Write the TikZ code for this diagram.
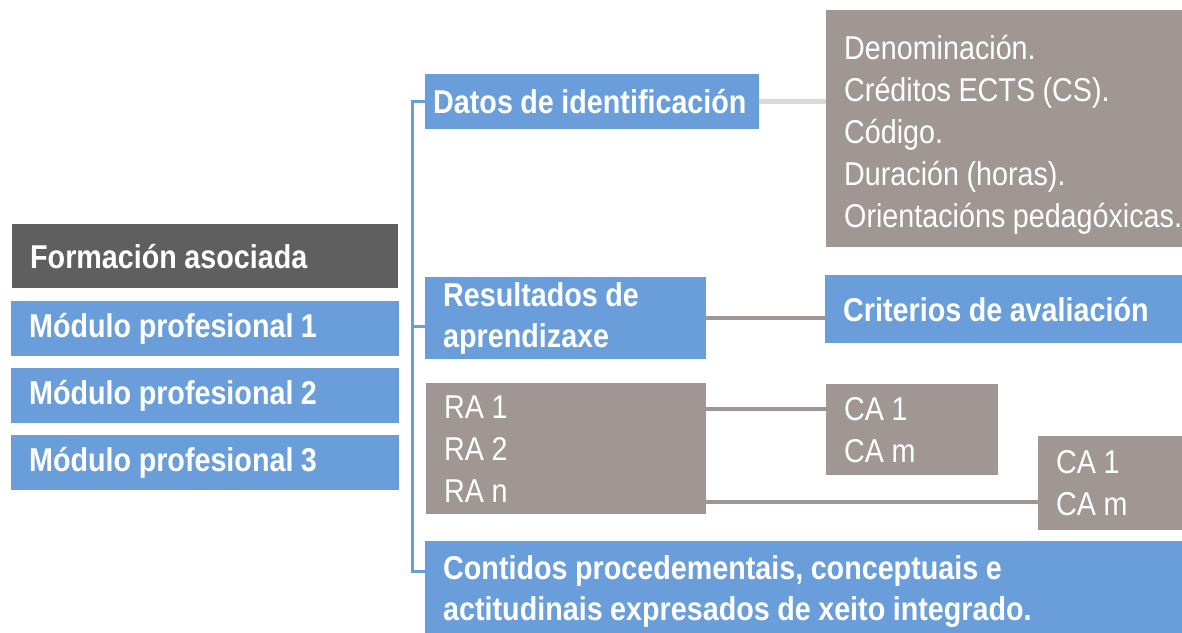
\documentclass[tikz,border=0pt]{standalone}
\usepackage{fontspec}
\usepackage{tikz}
\newfontfamily\diagfont[FakeStretch=0.87]{Liberation Sans}
\definecolor{modblue}{HTML}{6A9EDA}
\definecolor{ragray}{HTML}{A09694}
\definecolor{darkbox}{HTML}{5F5F5F}
\definecolor{lightline}{HTML}{D9D9D9}
\tikzset{
  box/.style={anchor=north west, inner xsep=18pt, inner ysep=0pt, align=left,
    text=white, font=\diagfont\fontsize{33}{42}\selectfont,
    execute at begin node={\hyphenpenalty=10000\spaceskip=7.5pt plus 2pt minus 1pt}},
  bluebox/.style={box, fill=modblue, font=\diagfont\bfseries\fontsize{33}{41}\selectfont},
  graybox/.style={box, fill=ragray},
  spine/.style={draw=modblue, line width=3pt},
  link/.style={draw=ragray, line width=4pt}
}
\begin{document}
\begin{tikzpicture}[x=1pt, y=-1pt]
\useasboundingbox (0,0) rectangle (1182,632);
% left column
\node[bluebox, fill=darkbox, text width=350pt, minimum height=64pt] (forma) at (12,224) {Formación asociada};
\node[bluebox, text width=352pt, minimum height=55pt] (mod1) at (11,301) {Módulo profesional 1};
\node[bluebox, text width=352pt, minimum height=55pt] (mod2) at (11,368) {Módulo profesional 2};
\node[bluebox, text width=352pt, minimum height=55pt] (mod3) at (11,435) {Módulo profesional 3};
% right part
\node[bluebox, inner xsep=8pt, text width=318pt, minimum height=55pt] (datos) at (425,74) {Datos de identificación};
\node[graybox, text width=360pt, minimum height=237pt] (denom) at (826,10)
  {\rule{0pt}{36pt}Denominación.\\Créditos ECTS (CS).\\Código.\\Duración (horas).\\Orientacións pedagóxicas.};
\node[bluebox, text width=245pt, minimum height=82pt] (result) at ([yshift=-3pt]425,274) {Resultados de\\aprendizaxe};
\node[bluebox, text width=340pt, minimum height=68pt] (crit) at (825,275) {Criterios de avaliación};
\node[graybox, text width=244pt, minimum height=131pt] (ra) at (426,383) {RA 1\\RA 2\\RA n};
\node[graybox, text width=136pt, minimum height=91pt] (ca1) at (826,384) {CA 1\\CA m};
\node[graybox, text width=130pt, minimum height=94pt] (ca2) at (1038,436) {CA 1\\CA m};
\node[bluebox, text width=740pt, minimum height=100pt] (cont) at (425,541)
  {Contidos procedementais, conceptuais e\\actitudinais expresados de xeito integrado.};
% bracket
\coordinate (rstub) at ([yshift=-8pt]result.west);
\coordinate (cstub) at ([yshift=20pt]cont.west);
\draw[spine] (datos.west) -- ++(-13,0) coordinate (top) |- (cstub);
\draw[spine] (top |- rstub) -- (rstub);
% connectors
\draw[lightline, line width=5pt] (datos.east) -- (datos.east -| denom.west);
\draw[link] (result.east) -- (result.east -| crit.west);
\coordinate (ra1) at ([yshift=40pt]ra.east);
\coordinate (ran) at ([yshift=-53pt]ra.east);
\draw[link] (ra1) -- (ra1 -| ca1.west);
\draw[link] (ran) -- (ran -| ca2.west);
\end{tikzpicture}
\end{document}
